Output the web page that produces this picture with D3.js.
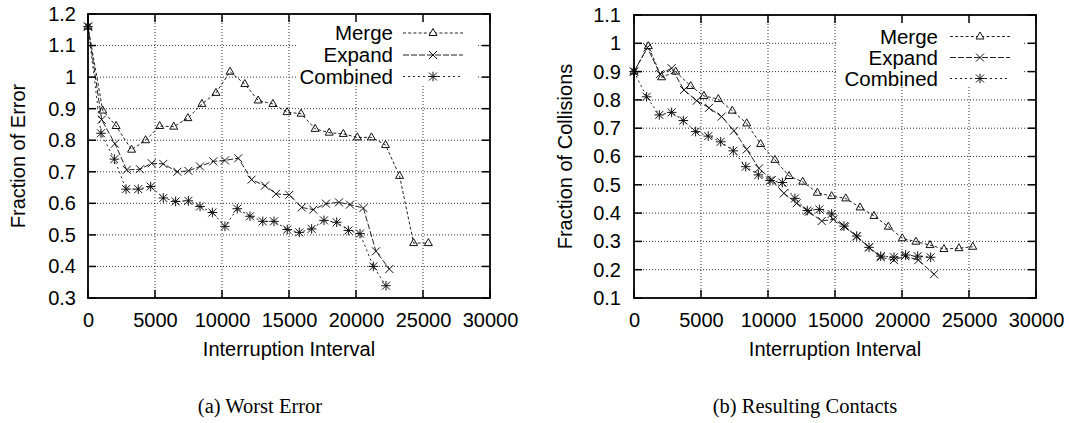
<!DOCTYPE html>
<html>
<head>
<meta charset="utf-8">
<script src="https://cdn.jsdelivr.net/npm/d3@7"></script>
<style>
  body { margin: 0; background: #fff; }
  svg text { font-family: "Liberation Sans", Arial, Helvetica, sans-serif; fill: #000; }
  svg text.caption { font-family: "Liberation Serif", "Times New Roman", serif; }
</style>
</head>
<body>
<div id="chart"></div>
<script>
// shared
var seriesNames = ["Merge", "Expand", "Combined"]
var xTicks = [0, 5000, 10000, 15000, 20000, 25000, 30000]

// (a) worst error
var errYTicks = [0.3, 0.4, 0.5, 0.6, 0.7, 0.8, 0.9, 1.0, 1.1, 1.2]
var errMergeX = [0, 1100, 2100, 3250, 4300, 5350, 6400, 7450, 8500, 9550, 10600, 11700, 12700, 13800, 14850, 15900, 16950, 18000, 19050, 20100, 21150, 22200, 23250, 24300, 25400]
var errMergeY = [1.16, 0.894, 0.845, 0.77, 0.80, 0.845, 0.843, 0.87, 0.915, 0.95, 1.017, 0.978, 0.926, 0.915, 0.889, 0.884, 0.836, 0.824, 0.82, 0.809, 0.809, 0.785, 0.687, 0.474, 0.474]
var errExpandX = [0, 1020, 2010, 2890, 3880, 4750, 5620, 6670, 7490, 8360, 9350, 10220, 11220, 12210, 13210, 14030, 15020, 15950, 16810, 17760, 18730, 19550, 20550, 21490, 22490]
var errExpandY = [1.16, 0.865, 0.789, 0.706, 0.708, 0.727, 0.725, 0.70, 0.703, 0.717, 0.733, 0.736, 0.743, 0.675, 0.656, 0.63, 0.627, 0.587, 0.58, 0.599, 0.603, 0.596, 0.585, 0.448, 0.392]
var errCombinedX = [0, 970, 1970, 2840, 3750, 4680, 5620, 6540, 7490, 8360, 9280, 10220, 11140, 12090, 13040, 13880, 14870, 15770, 16690, 17610, 18560, 19430, 20300, 21290, 22240]
var errCombinedY = [1.16, 0.822, 0.74, 0.645, 0.645, 0.653, 0.617, 0.606, 0.608, 0.59, 0.571, 0.527, 0.583, 0.559, 0.543, 0.543, 0.517, 0.508, 0.519, 0.546, 0.54, 0.514, 0.504, 0.40, 0.339]

// (b) resulting contacts
var colYTicks = [0.1, 0.2, 0.3, 0.4, 0.5, 0.6, 0.7, 0.8, 0.9, 1.0, 1.1]
var colMergeX = [0, 1070, 2060, 3110, 4230, 5220, 6290, 7330, 8410, 9450, 10520, 11570, 12590, 13680, 14750, 15800, 16870, 17910, 18980, 20020, 21040, 22090, 23130, 24250, 25280]
var colMergeY = [0.9, 0.99, 0.88, 0.90, 0.849, 0.814, 0.803, 0.762, 0.717, 0.644, 0.588, 0.531, 0.511, 0.472, 0.46, 0.452, 0.42, 0.39, 0.352, 0.311, 0.299, 0.287, 0.273, 0.276, 0.281]
var colExpandX = [0, 1000, 1940, 2810, 3730, 4680, 5600, 6540, 7460, 8410, 9330, 10280, 11190, 12140, 13060, 14010, 14880, 15750, 16620, 17540, 18410, 19400, 20220, 21220, 22390]
var colExpandY = [0.9, 0.985, 0.891, 0.912, 0.835, 0.797, 0.772, 0.741, 0.691, 0.625, 0.558, 0.517, 0.47, 0.435, 0.405, 0.372, 0.378, 0.352, 0.317, 0.279, 0.244, 0.234, 0.248, 0.234, 0.184]
var colCombinedX = [0, 940, 1890, 2810, 3680, 4600, 5540, 6470, 7410, 8340, 9280, 10150, 11070, 12010, 12930, 13830, 14750, 15670, 16620, 17540, 18410, 19400, 20270, 21170, 22140]
var colCombinedY = [0.9, 0.811, 0.747, 0.756, 0.727, 0.688, 0.672, 0.652, 0.62, 0.564, 0.535, 0.515, 0.508, 0.452, 0.409, 0.413, 0.397, 0.354, 0.319, 0.279, 0.248, 0.244, 0.252, 0.248, 0.244]

var styles = [
  { dash: "3,2.2", marker: "triangle" },
  { dash: "6,2", marker: "cross" },
  { dash: "2,3", marker: "star" }
]

var fontSize = "20px"

var svg = d3.select("#chart").append("svg")
  .attr("width", 1069)
  .attr("height", 423)

function zip(xs, ys) {
  return xs.map(function(x, i) { return { x: x, y: ys[i] } })
}

function markerPath(type) {
  var r = 4
  if (type == "triangle") return "M0,-4.5L4,2.5L-4,2.5Z"
  if (type == "cross") return "M" + -r + "," + -r + "L" + r + "," + r + "M" + -r + "," + r + "L" + r + "," + -r
  return "M" + -r + "," + -r + "L" + r + "," + r + "M" + -r + "," + r + "L" + r + "," + -r +
    "M0," + -r * 1.2 + "L0," + r * 1.2 + "M" + -r * 1.2 + ",0L" + r * 1.2 + ",0"
}

function drawPanel(p) {
  var g = svg.append("g")
  var x = d3.scaleLinear().domain([0, 30000]).range([p.left, p.right])
  var y = d3.scaleLinear().domain(p.yDomain).range([p.bottom, p.top])

  // dotted grid
  g.append("g").selectAll("line.gx")
    .data(xTicks.slice(1, -1)).enter().append("line")
    .attr("x1", function(d) { return x(d) }).attr("x2", function(d) { return x(d) })
    .attr("y1", p.top).attr("y2", p.bottom)
    .attr("stroke", "#333").attr("stroke-width", 1).attr("stroke-dasharray", "1,2")
  g.append("g").selectAll("line.gy")
    .data(p.yTicks.slice(1, -1)).enter().append("line")
    .attr("x1", p.left).attr("x2", p.right)
    .attr("y1", function(d) { return y(d) }).attr("y2", function(d) { return y(d) })
    .attr("stroke", "#333").attr("stroke-width", 1).attr("stroke-dasharray", "1,2")

  // legend background hides grid
  g.append("rect")
    .attr("x", p.box[0]).attr("y", p.top)
    .attr("width", p.box[1] - p.box[0]).attr("height", p.box[2] - p.top)
    .attr("fill", "#fff")

  // series
  p.series.forEach(function(s, i) {
    var st = styles[i]
    g.append("path")
      .datum(s)
      .attr("fill", "none")
      .attr("stroke", "#222")
      .attr("stroke-width", 1)
      .attr("stroke-dasharray", st.dash)
      .attr("d", d3.line().x(function(d) { return x(d.x) }).y(function(d) { return y(d.y) }))
    g.append("g").selectAll("path")
      .data(s).enter().append("path")
      .attr("transform", function(d) { return "translate(" + x(d.x) + "," + y(d.y) + ")" })
      .attr("d", markerPath(st.marker))
      .attr("fill", "none")
      .attr("stroke", "#111")
      .attr("stroke-width", 1)
  })

  // inward ticks on all sides
  var tl = 8
  xTicks.forEach(function(t) {
    g.append("line").attr("x1", x(t)).attr("x2", x(t)).attr("y1", p.bottom).attr("y2", p.bottom - tl)
      .attr("stroke", "#000").attr("stroke-width", 1.5)
    g.append("line").attr("x1", x(t)).attr("x2", x(t)).attr("y1", p.top).attr("y2", p.top + tl)
      .attr("stroke", "#000").attr("stroke-width", 1.5)
  })
  p.yTicks.forEach(function(t) {
    g.append("line").attr("x1", p.left).attr("x2", p.left + tl).attr("y1", y(t)).attr("y2", y(t))
      .attr("stroke", "#000").attr("stroke-width", 1.5)
    g.append("line").attr("x1", p.right).attr("x2", p.right - tl).attr("y1", y(t)).attr("y2", y(t))
      .attr("stroke", "#000").attr("stroke-width", 1.5)
  })

  // border
  g.append("rect")
    .attr("x", p.left).attr("y", p.top)
    .attr("width", p.right - p.left).attr("height", p.bottom - p.top)
    .attr("fill", "none").attr("stroke", "#000").attr("stroke-width", 1.8)

  // axis labels
  var xAxis = g.append("g")
    .attr("transform", "translate(0," + p.bottom + ")")
    .call(d3.axisBottom(x).tickValues(xTicks).tickSize(0).tickPadding(15).tickFormat(d3.format("d")))
  var yAxis = g.append("g")
    .attr("transform", "translate(" + p.left + ",0)")
    .call(d3.axisLeft(y).tickValues(p.yTicks).tickSize(0).tickPadding(p.yPad)
      .tickFormat(function(d) { return String(+d.toFixed(1)) }))
  ;[xAxis, yAxis].forEach(function(a) {
    a.select(".domain").remove()
    a.selectAll("text").style("font-size", fontSize).attr("fill", "#000")
      .style("font-family", "'Liberation Sans', Arial, sans-serif")
  })

  g.append("text")
    .attr("x", (p.left + p.right) / 2).attr("y", 356)
    .attr("text-anchor", "middle").style("font-size", fontSize)
    .text("Interruption Interval")

  g.append("text")
    .attr("transform", "translate(" + p.yTitleX + "," + (p.top + p.bottom) / 2 + ") rotate(-90)")
    .attr("text-anchor", "middle").style("font-size", fontSize)
    .text(p.yTitle)

  g.append("text")
    .attr("class", "caption")
    .attr("x", p.captionX).attr("y", 413)
    .attr("text-anchor", "middle").style("font-size", "20.5px")
    .text(p.caption)

  // legend
  seriesNames.forEach(function(name, i) {
    var ly = p.legendY[i]
    g.append("text")
      .attr("x", p.legendTextX).attr("y", ly).attr("dy", "0.35em")
      .attr("text-anchor", "end").style("font-size", "20.5px")
      .text(name)
    g.append("line")
      .attr("x1", p.sample[0]).attr("x2", p.sample[1]).attr("y1", ly).attr("y2", ly)
      .attr("stroke", "#222").attr("stroke-width", 1).attr("stroke-dasharray", styles[i].dash)
    g.append("path")
      .attr("transform", "translate(" + (p.sample[0] + p.sample[1]) / 2 + "," + ly + ")")
      .attr("d", markerPath(styles[i].marker))
      .attr("fill", "#fff").attr("stroke", "#111").attr("stroke-width", 1)
  })
}

drawPanel({
  left: 88, right: 490, top: 14, bottom: 298,
  yDomain: [0.3, 1.2], yTicks: errYTicks, yPad: 12,
  yTitle: "Fraction of Error", yTitleX: 25,
  caption: "(a) Worst Error", captionX: 260,
  legendTextX: 393, sample: [403, 463], legendY: [33, 55, 76.5],
  box: [296, 478, 86],
  series: [zip(errMergeX, errMergeY), zip(errExpandX, errExpandY), zip(errCombinedX, errCombinedY)]
})

drawPanel({
  left: 634, right: 1036, top: 15, bottom: 298,
  yDomain: [0.1, 1.1], yTicks: colYTicks, yPad: 13,
  yTitle: "Fraction of Collisions", yTitleX: 572,
  caption: "(b) Resulting Contacts", captionX: 805,
  legendTextX: 938, sample: [950, 1010], legendY: [36.5, 57.5, 78.5],
  box: [838, 1023, 87],
  series: [zip(colMergeX, colMergeY), zip(colExpandX, colExpandY), zip(colCombinedX, colCombinedY)]
})
</script>
</body>
</html>
